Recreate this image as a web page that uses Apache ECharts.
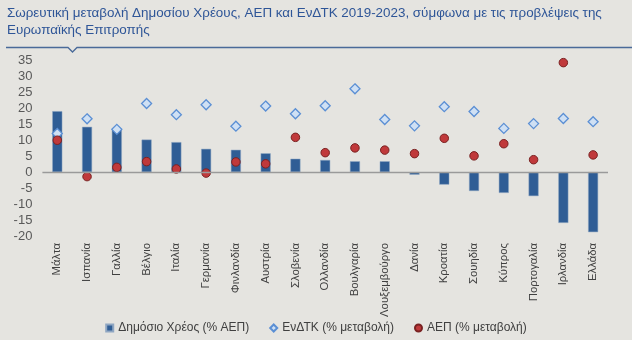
<!DOCTYPE html>
<html><head><meta charset="utf-8">
<script src="https://cdn.jsdelivr.net/npm/echarts@6/dist/echarts.min.js"></script>
<style>html,body{margin:0;padding:0;background:#E5E4E0;}#c{width:632px;height:340px;}</style>
</head><body><div id="c"></div>
<script>
var categories = ["Μάλτα","Ισπανία","Γαλλία","Βέλγιο","Ιταλία","Γερμανία","Φινλανδία","Αυστρία","Σλοβενία","Ολλανδία","Βουλγαρία","Λουξεμβούργο","Δανία","Κροατία","Σουηδία","Κύπρος","Πορτογαλία","Ιρλανδία","Ελλάδα"];
var debt = [19.1,14.2,13.4,10.2,9.4,7.3,7.0,5.9,4.2,3.8,3.4,3.4,-0.8,-3.9,-5.9,-6.5,-7.5,-15.9,-18.8];
var hicp = [12.1,16.7,13.4,21.5,18.0,21.1,14.4,20.7,18.3,20.8,26.1,16.5,14.5,20.5,19.0,13.7,15.2,16.8,15.8];
var gdp = [10.0,-1.4,1.5,3.3,1.0,-0.3,3.2,2.6,10.9,6.1,7.6,6.9,5.8,10.6,5.1,8.9,3.9,34.3,5.4];
var seriesNames = ["Δημόσιο Χρέος (% ΑΕΠ)","ΕνΔΤΚ (% μεταβολή)","ΑΕΠ (% μεταβολή)"];
var titleText = "Σωρευτική μεταβολή Δημοσίου Χρέους, ΑΕΠ και ΕνΔΤΚ 2019-2023, σύμφωνα με τις προβλέψεις της\nΕυρωπαϊκής Επιτροπής";

var chart = echarts.init(document.getElementById('c'), null, {renderer:'canvas'});
var font = 'Liberation Sans, Arial, sans-serif';
chart.setOption({
  backgroundColor: '#E5E4E0',
  animation: false,
  textStyle: {fontFamily: font},
  title: {
    text: titleText, left: 7, top: 5, padding: 0,
    textStyle: {color: '#2E5597', fontSize: 13.4, fontWeight: 'normal', lineHeight: 17, fontFamily: font}
  },
  graphic: [{
    type: 'polyline', silent: true,
    shape: {points: [[6,47.5],[68,47.5],[72.5,52],[77,47.5],[632,47.5]]},
    style: {stroke: '#4A6A99', lineWidth: 1.3, fill: null}
  }],
  legend: {
    bottom: 6, left: 'center', padding: 0, itemWidth: 7, itemHeight: 7, itemGap: 20,
    textStyle: {color: '#404040', fontSize: 12, fontFamily: font},
    data: [
      {name: seriesNames[0], icon: 'rect'},
      {name: seriesNames[1], icon: 'diamond'},
      {name: seriesNames[2], icon: 'circle'}
    ]
  },
  grid: {left: 42.4, right: 24, top: 60.4, bottom: 104},
  xAxis: {
    type: 'category', data: categories,
    axisLine: {show: false}, axisTick: {show: false},
    axisLabel: {rotate: 90, interval: 0, color: '#404040', fontSize: 11.3, margin: 7, fontFamily: font}
  },
  yAxis: {
    type: 'value', min: -20, max: 35, interval: 5,
    splitLine: {show: false}, axisLine: {show: false}, axisTick: {show: false},
    axisLabel: {color: '#595959', fontSize: 13, margin: 10, fontFamily: font}
  },
  series: [
    {
      name: seriesNames[0], type: 'bar', data: debt, barWidth: 10,
      itemStyle: {color: '#2F5D95', borderColor: '#8FA6C2', borderWidth: 0.5},
      markLine: {
        silent: true, symbol: 'none', label: {show: false},
        lineStyle: {color: '#9A9A9A', width: 1.3, type: 'solid'},
        data: [{yAxis: 0}]
      },
      z: 2
    },
    {
      name: seriesNames[1], type: 'scatter', data: hicp, symbol: 'diamond', symbolSize: 10,
      itemStyle: {color: '#CFE0F4', borderColor: '#5B8FD4', borderWidth: 1.3, opacity: 1},
      z: 3
    },
    {
      name: seriesNames[2], type: 'scatter', data: gdp, symbol: 'circle', symbolSize: 8.5,
      itemStyle: {color: '#C0393B', borderColor: '#7A2222', borderWidth: 1, opacity: 1},
      z: 4
    }
  ]
});
</script>
</body></html>
